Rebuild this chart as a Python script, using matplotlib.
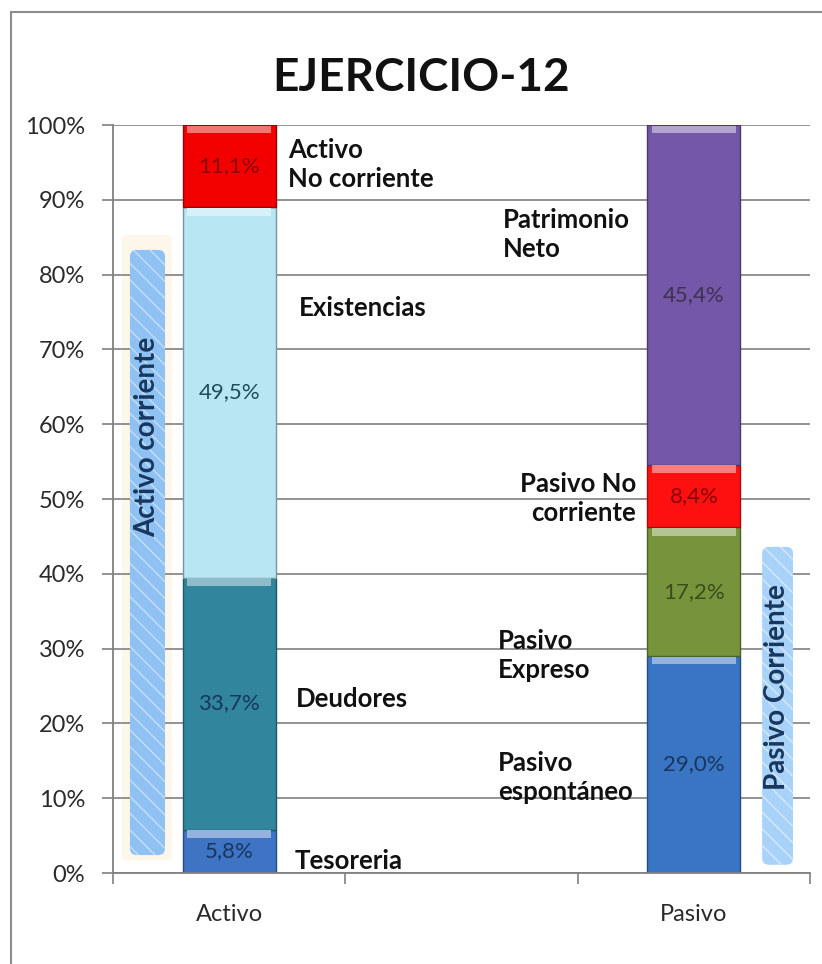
import matplotlib
matplotlib.use("Agg")
import matplotlib.pyplot as plt
from matplotlib.colors import to_rgb
from matplotlib.patches import FancyBboxPatch, Rectangle
from matplotlib.ticker import FixedLocator, PercentFormatter

plt.rcParams['font.family'] = ['Lato', 'DejaVu Sans']

title = "EJERCICIO-12"
categories = ["Activo", "", "Pasivo"]

activo_names = ["Tesoreria", "Deudores", "Existencias", "Activo\nNo corriente"]
activo_values = [5.8, 33.7, 49.5, 11.1]
activo_labels = ["5,8%", "33,7%", "49,5%", "11,1%"]
activo_colors = ["#3f73c4", "#31869e", "#b8e6f2", "#f20000"]
activo_text_colors = ["#17375e", "#17375e", "#1f4e5a", "#8b0000"]

pasivo_names = ["Pasivo\nespontáneo", "Pasivo\nExpreso", "Pasivo No\ncorriente", "Patrimonio\nNeto"]
pasivo_values = [29.0, 17.2, 8.4, 45.4]
pasivo_labels = ["29,0%", "17,2%", "8,4%", "45,4%"]
pasivo_colors = ["#3a75c4", "#77933c", "#ff1010", "#7457a8"]
pasivo_text_colors = ["#17375e", "#3b4d1c", "#8b0000", "#3f3151"]

yticks = [0, 10, 20, 30, 40, 50, 60, 70, 80, 90, 100]

fig = plt.figure(figsize=(8.22, 9.64), dpi=100)
fig.patches.append(Rectangle((11/822, -0.05), 1.2, 1 - 12/964 + 0.05, transform=fig.transFigure,
                             fill=False, edgecolor="#8c8c8c", linewidth=1.5))
ax = fig.add_axes([113/822, 1 - 873/964, (810 - 113)/822, (873 - 125)/964])

bw = 0.4
xa, xp = 0, 2

def shade(c, f):
    r, g, b = to_rgb(c)
    return (r * f, g * f, b * f)

def tint(c, f):
    r, g, b = to_rgb(c)
    return (r + (1 - r) * f, g + (1 - g) * f, b + (1 - b) * f)

def stack(x, vals, cols, labels, tcols):
    bottom = 0
    for v, c, lab, tc in zip(vals, cols, labels, tcols):
        top = min(bottom + v, 100)
        ax.bar(x, top - bottom, bw, bottom=bottom, color=c, edgecolor=shade(c, 0.65),
               linewidth=1.0, zorder=3)
        ax.bar(x, 1.0, bw * 0.9, bottom=top - 1.1, color=tint(c, 0.45),
               edgecolor="none", zorder=3.5)
        ax.text(x, (bottom + top) / 2, lab, ha="center", va="center", fontsize=16,
                color=tc, zorder=5)
        bottom += v

stack(xa, activo_values, activo_colors, activo_labels, activo_text_colors)
stack(xp, pasivo_values, pasivo_colors, pasivo_labels, pasivo_text_colors)

ax.set_xlim(-0.5, 2.5)
ax.set_ylim(0, 100)
ax.yaxis.set_major_locator(FixedLocator(yticks))
ax.yaxis.set_major_formatter(PercentFormatter(decimals=0))
ax.set_xticks([0, 1, 2])
ax.set_xticklabels(categories)
ax.set_xticks([-0.5, 0.5, 1.5, 2.5], minor=True)
ax.tick_params(axis="x", which="major", length=0, pad=22, labelsize=17, labelcolor="#2a2a2a")
ax.tick_params(axis="x", which="minor", length=8, color="#808080", width=1.2)
ax.tick_params(axis="y", length=8, color="#808080", width=1.2, labelsize=17, labelcolor="#2a2a2a", pad=12)
ax.grid(axis="y", color="#8a8a8a", linewidth=1.3, zorder=0)
for s in ["top", "right"]:
    ax.spines[s].set_visible(False)
for s in ["left", "bottom"]:
    ax.spines[s].set_color("#808080")
    ax.spines[s].set_linewidth(1.3)
    ax.spines[s].set_zorder(4)

fig.text(421/822, 1 - 78/964, title, ha="center", va="center", fontsize=33,
         fontweight="bold", color="#111111")

# side labels
lab_kw = dict(fontsize=18.5, fontweight="bold", color="#111111", zorder=6, linespacing=1.25)
ax.text(0.253, 94.7, activo_names[3], ha="left", va="center", **lab_kw)
ax.text(0.30, 75.5, activo_names[2], ha="left", va="center", **lab_kw)
ax.text(0.285, 23.3, activo_names[1], ha="left", va="center", **lab_kw)
ax.text(0.28, 1.6, activo_names[0], ha="left", va="center", **lab_kw)
ax.text(1.179, 85.4, pasivo_names[3], ha="left", va="center", **lab_kw)
ax.text(1.751, 50.1, pasivo_names[2], ha="right", va="center", **lab_kw)
ax.text(1.157, 29.1, pasivo_names[1], ha="left", va="center", **lab_kw)
ax.text(1.157, 12.8, pasivo_names[0], ha="left", va="center", **lab_kw)

# bracket boxes
ax.add_patch(FancyBboxPatch((-0.461, 1.7), 0.215, 83.6, boxstyle="round,pad=0,rounding_size=0.02",
                            mutation_aspect=30, facecolor="#fdf6ea", edgecolor="none", zorder=1))
ax.add_patch(FancyBboxPatch((-0.427, 2.4), 0.151, 80.9, boxstyle="round,pad=0,rounding_size=0.03",
                            mutation_aspect=30, facecolor="#8fc1f3", edgecolor="none", zorder=2))
ax.add_patch(FancyBboxPatch((-0.427, 2.4), 0.151, 80.9, boxstyle="round,pad=0,rounding_size=0.03",
                            mutation_aspect=30, facecolor="none", edgecolor="#c4e0fb", hatch="\\\\",
                            linewidth=0, zorder=2))
ax.text(-0.352, 58.3, "Activo corriente", rotation=90, ha="center", va="center",
        fontsize=20, fontweight="bold", color="#17375e", zorder=6)

ax.add_patch(FancyBboxPatch((2.294, 1.1), 0.133, 42.5, boxstyle="round,pad=0,rounding_size=0.03",
                            mutation_aspect=30, facecolor="#a9d2f8", edgecolor="none", zorder=2))
ax.add_patch(FancyBboxPatch((2.294, 1.1), 0.133, 42.5, boxstyle="round,pad=0,rounding_size=0.03",
                            mutation_aspect=30, facecolor="none", edgecolor="#d4e9fc", hatch="\\\\",
                            linewidth=0, zorder=2))
ax.text(2.36, 24.9, "Pasivo Corriente", rotation=90, ha="center", va="center",
        fontsize=20, fontweight="bold", color="#17375e", zorder=6)

fig.savefig("out.png", dpi=100)
